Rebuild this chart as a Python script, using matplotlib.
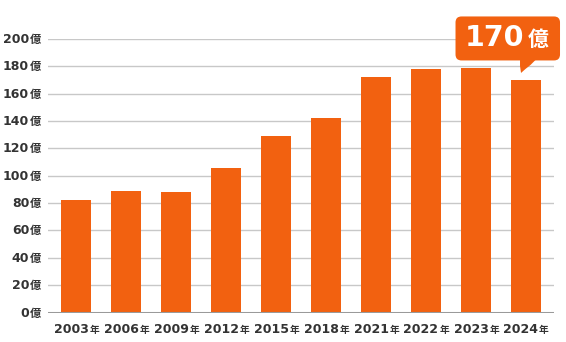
import matplotlib.pyplot as plt
from matplotlib import transforms
from matplotlib.patches import FancyBboxPatch, Polygon

# --------------------------------------------------
# Data
# --------------------------------------------------
years = ["2003", "2006", "2009", "2012", "2015", "2018", "2021", "2022", "2023", "2024"]
values = [82, 88.5, 88, 106, 129, 142.5, 172.5, 178, 179, 170]
y_ticks = [0, 20, 40, 60, 80, 100, 120, 140, 160, 180, 200]
callout_num = "170"
unit_y = "億"
unit_x = "年"

ORANGE = "#f26110"
TEXT = "#333333"
DIGIT_FONT = "DejaVu Sans"
CJK_FONT = "Noto Sans CJK JP"

# --------------------------------------------------
# Figure
# --------------------------------------------------
fig = plt.figure(figsize=(5.66, 3.42), dpi=100)
ax = fig.add_axes([48.3 / 566, 1 - 312.6 / 342, (554 - 48.3) / 566, (312.6 - 38.9) / 342])

x = range(len(years))
ax.bar(x, values, width=0.6, color=ORANGE, zorder=3)

ax.set_xlim(-0.55, 9.57)
ax.set_ylim(0, 200)

# gridlines
for v in y_ticks[1:]:
    ax.axhline(v, color="#c8c8c8", lw=1.0, zorder=1)
ax.axhline(0, color="#9a9a9a", lw=2.2, zorder=4)

for s in ax.spines.values():
    s.set_visible(False)
ax.set_xticks([])
ax.set_yticks([])

# y tick labels: number + small 億
for v in y_ticks:
    ax.annotate(unit_y, xy=(0, v), xycoords=("axes fraction", "data"),
                xytext=(-5.5, -0.3), textcoords="offset points", ha="right", va="center",
                fontsize=8, fontweight="bold", family=CJK_FONT, color=TEXT)
    ax.annotate(str(v), xy=(0, v), xycoords=("axes fraction", "data"),
                xytext=(-13.8, -0.3), textcoords="offset points", ha="right", va="center",
                fontsize=9, fontweight="bold", family=DIGIT_FONT, color=TEXT)

# x tick labels: year + small 年
for i, yr in enumerate(years):
    ax.annotate(yr, xy=(i, 0), xycoords=("data", "axes fraction"),
                xytext=(9.3, -12.2), textcoords="offset points", ha="right", va="center",
                fontsize=9, fontweight="bold", family=DIGIT_FONT, color=TEXT)
    ax.annotate(unit_x, xy=(i, 0), xycoords=("data", "axes fraction"),
                xytext=(9.8, -12.4), textcoords="offset points", ha="left", va="center",
                fontsize=7, fontweight="bold", family=CJK_FONT, color=TEXT)

# --------------------------------------------------
# Callout on the last bar (offsets in pixels from the bar top)
# --------------------------------------------------
tr = transforms.IdentityTransform() + transforms.ScaledTranslation(
    x[-1], values[-1], ax.transData)

box = FancyBboxPatch((-70, 19.5), 104.5, 44, boxstyle="round,pad=0,rounding_size=6",
                     facecolor=ORANGE, edgecolor="none", transform=tr,
                     clip_on=False, zorder=6)
fig.add_artist(box)
tail = Polygon([(-5.5, 21), (-5.5, 14), (-4.5, 7), (0, 11), (5, 15), (11, 21)],
               closed=True, facecolor=ORANGE, edgecolor="none", transform=tr,
               clip_on=False, zorder=6)
fig.add_artist(tail)

fig.text(-1.5, 34, callout_num, transform=tr, ha="right", va="baseline",
         fontsize=20.5, fontweight="bold", family=DIGIT_FONT, color="white", zorder=7)
fig.text(2, 33.5, unit_y, transform=tr, ha="left", va="baseline",
         fontsize=15, fontweight="bold", family=CJK_FONT, color="white", zorder=7)

fig.savefig("out.png", dpi=100)
